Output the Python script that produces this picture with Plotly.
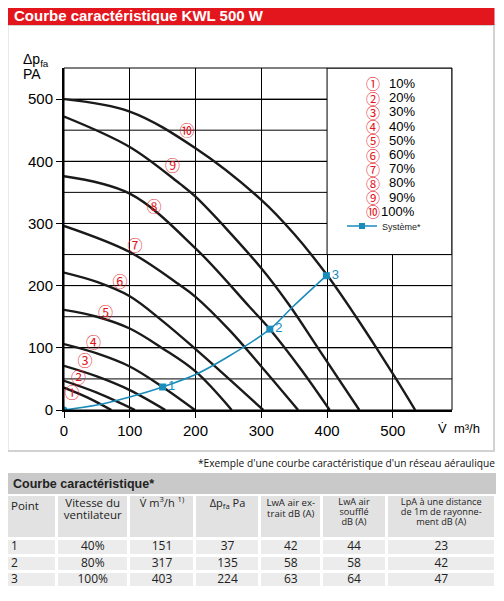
import plotly.graph_objects as go

# the page adds an 8px body margin, so the figure is drawn 8px smaller and
# every layout position below is given in reference pixels minus that offset
OFF = 8
W, H = 504 - OFF, 601 - OFF

# fan curves at each speed: air flow V (m3/h) and pressure dpfa (Pa)
c1_q = [0, 36, 72]
c1_p = [36, 20, 0]
c2_q = [0, 50, 108]
c2_p = [47, 28, 0]
c3_q = [0, 50, 100, 154]
c3_p = [71, 54, 32, 0]
c4_q = [0, 50, 100, 150, 199]
c4_p = [106, 91, 70, 37, 0]
c5_q = [0, 50, 100, 150, 200, 255]
c5_p = [161, 150, 131, 99, 62, 0]
c6_q = [0, 50, 100, 150, 200, 250, 303]
c6_p = [221, 206, 183, 143, 98, 51, 0]
c7_q = [0, 100, 176, 200, 252, 300, 356]
c7_p = [296, 254, 201, 182, 128, 70, 0]
c8_q = [0, 100, 200, 282, 313, 360, 404]
c8_p = [376, 348, 260, 166, 130, 66, 0]
c9_q = [0, 100, 176, 200, 300, 343, 386, 449]
c9_p = [472, 423, 364, 343, 228, 168, 100, 0]
c10_q = [0, 100, 200, 300, 350, 400, 444, 475, 505, 534]
c10_p = [500, 480, 421, 338, 283, 217, 150, 100, 50, 0]

curves_q = [c1_q, c2_q, c3_q, c4_q, c5_q, c6_q, c7_q, c8_q, c9_q, c10_q]
curves_p = [c1_p, c2_p, c3_p, c4_p, c5_p, c6_p, c7_p, c8_p, c9_p, c10_p]

circled = ["①", "②", "③", "④", "⑤", "⑥", "⑦", "⑧", "⑨", "⑩"]
speeds = ["10%", "20%", "30%", "40%", "50%", "60%", "70%", "80%", "90%", "100%"]
# where the circled numbers sit on the chart
label_q = [12, 22, 32, 45, 63, 85, 108, 137, 165, 187]
label_p = [25, 49, 76, 106, 154, 204, 262, 325, 390, 446]

# system curve and its operating points
sys_q = [0, 50, 100, 150, 200, 250, 313, 348, 399]
sys_p = [0, 8, 21, 37, 57, 86, 130, 166, 216]
pt_q = [0, 150, 313, 399]
pt_p = [0, 37, 130, 216]
pt_names = ["1", "2", "3"]

# pressure grid every 50 Pa
grid_p = [50, 100, 150, 200, 250, 300, 350, 400, 450, 500]

# table
tab_header = [
    ["Point"],
    ["Vitesse du", "ventilateur"],
    ["V̇ m<sup>3</sup>/h <sup>1)</sup>"],
    ["Δp<sub>fa</sub> Pa"],
    ["LwA air ex-", "trait dB (A)"],
    ["LwA air", "soufflé", "dB (A)"],
    ["LpA à une distance", "de 1m de rayonne-", "ment dB (A)"],
]
col_point = ["1", "2", "3"]
col_speed = ["40%", "80%", "100%"]
col_flow = [151, 317, 403]
col_dp = [37, 135, 224]
col_lwa_ext = [42, 58, 63]
col_lwa_sup = [44, 58, 64]
col_lpa = [23, 42, 47]
tab_cols = [col_point, col_speed, col_flow, col_dp, col_lwa_ext, col_lwa_sup, col_lpa]

RED = "#e3161e"
BLUE = "#1a8cbc"
FONT = "Liberation Sans"
TFONT = "Open Sans"

# table geometry in pixels (column / row boundaries)
tab_x_edges = [0, 49.5, 122, 188, 253, 314.5, 379.5, 489]
tab_y_edges = [0, 43.5, 61, 76.5, 93]
hdr_spacing = [0, 12, 0, 0, 11, 10, 10]
hdr_size = [11.5, 11.5, 11, 11, 9.6, 9.2, 9.2]


def fx(px):
    return (px - OFF) / W


def fy(py):
    return 1 - (py - OFF) / H


fig = go.Figure()

for q, p in zip(curves_q, curves_p):
    fig.add_trace(go.Scatter(
        x=q, y=p, mode="lines",
        line=dict(color="#1a1a1a", width=2.4, shape="spline", smoothing=1),
        showlegend=False, hoverinfo="skip",
    ))

fig.add_trace(go.Scatter(
    x=label_q, y=label_p, mode="text", text=circled,
    textfont=dict(family="Noto Sans CJK JP", size=15, color=RED),
    showlegend=False, hoverinfo="skip",
))

fig.add_trace(go.Scatter(
    x=sys_q, y=sys_p, mode="lines",
    line=dict(color=BLUE, width=1.6, shape="spline"),
    showlegend=False, hoverinfo="skip",
))
fig.add_trace(go.Scatter(
    x=pt_q[:1], y=pt_p[:1], mode="markers",
    marker=dict(symbol="circle", size=7, color=BLUE),
    showlegend=False, hoverinfo="skip",
))
fig.add_trace(go.Scatter(
    x=pt_q[1:], y=pt_p[1:], mode="markers+text", text=pt_names,
    textposition="middle right",
    marker=dict(symbol="square", size=7, color=BLUE),
    textfont=dict(family=FONT, size=13, color=BLUE),
    showlegend=False, hoverinfo="skip",
))
# legend entry only
fig.add_trace(go.Scatter(
    x=[None], y=[None], mode="lines+markers", name="Système*",
    line=dict(color=BLUE, width=1.4),
    marker=dict(symbol="square", size=6, color=BLUE),
))

# table: cell backgrounds as a heatmap with white gaps
fig.add_trace(go.Heatmap(
    x=tab_x_edges, y=tab_y_edges,
    z=[[0] * 7, [1] * 7, [1] * 7, [1] * 7],
    colorscale=[[0, "#e2e2e2"], [1, "#ececec"]], zmin=0, zmax=1,
    xgap=3, ygap=3, showscale=False, hoverinfo="skip",
    xaxis="x2", yaxis="y2",
))
mids_x = [(a + b) / 2 for a, b in zip(tab_x_edges[:-1], tab_x_edges[1:])]
mids_y = [(a + b) / 2 for a, b in zip(tab_y_edges[1:-1], tab_y_edges[2:])]
for i, lines in enumerate(tab_header):
    n = len(lines)
    top = 12 if i == 0 else 9
    if n == 3:
        top = 7.5
    ys = [top + k * hdr_spacing[i] for k in range(n)]
    xs = [tab_x_edges[i] + 4] * n if i == 0 else [mids_x[i]] * n
    fig.add_trace(go.Scatter(
        x=xs, y=ys, text=lines, mode="text",
        textposition="middle right" if i == 0 else "middle center",
        textfont=dict(family=TFONT, size=hdr_size[i], color="#222"),
        xaxis="x2", yaxis="y2", showlegend=False, hoverinfo="skip",
    ))
for i, col in enumerate(tab_cols):
    xs = [tab_x_edges[i] + 4] * len(col) if i == 0 else [mids_x[i]] * len(col)
    fig.add_trace(go.Scatter(
        x=xs, y=mids_y, text=[str(v) for v in col], mode="text",
        textposition="middle right" if i == 0 else "middle center",
        textfont=dict(family=TFONT, size=12, color="#222"),
        xaxis="x2", yaxis="y2", showlegend=False, hoverinfo="skip",
    ))

shapes = [
    # red title bar and grey frame around the chart
    dict(type="rect", xref="paper", yref="paper", x0=fx(7.5), x1=fx(494), y0=fy(451), y1=fy(25),
         line=dict(color="#d2d2d2", width=2), fillcolor="rgba(0,0,0,0)", layer="below"),
    dict(type="rect", xref="paper", yref="paper", x0=fx(7), x1=fx(494.5), y0=fy(25), y1=fy(7),
         line=dict(width=0), fillcolor=RED, layer="below"),
    # table title band
    dict(type="rect", xref="paper", yref="paper", x0=fx(7), x1=fx(496), y0=fy(494), y1=fy(473),
         line=dict(width=0), fillcolor="#c9c9c9", layer="below"),
]
# horizontal grid lines, placed on the pressure axis
for g in grid_p:
    shapes.append(dict(type="line", xref="x", yref="y", x0=0, x1=590, y0=g, y1=g,
                       line=dict(color="black", width=1), layer="below"))
shapes += [
    # legend box covering the grid
    dict(type="rect", xref="x", yref="y", x0=400, x1=590, y0=250, y1=550,
         line=dict(color="black", width=1), fillcolor="white", layer="above"),
    # plot frame
    dict(type="rect", xref="x domain", yref="y domain", x0=0, x1=1, y0=0, y1=1,
         line=dict(color="black", width=1), layer="above"),
]

annotations = [
    dict(text="<b>Courbe caractéristique KWL 500 W</b>", x=fx(12), y=fy(16), xref="paper", yref="paper",
         xanchor="left", yanchor="middle", showarrow=False, font=dict(family=FONT, size=15, color="white")),
    dict(text="Δp<sub>fa</sub>", x=fx(21), y=fy(60), xref="paper", yref="paper",
         xanchor="left", yanchor="middle", showarrow=False, font=dict(family=FONT, size=14, color="black")),
    dict(text="PA", x=fx(21), y=fy(74), xref="paper", yref="paper",
         xanchor="left", yanchor="middle", showarrow=False, font=dict(family=FONT, size=14, color="black")),
    dict(text="V̇  m³/h", x=fx(436), y=fy(428), xref="paper", yref="paper",
         xanchor="left", yanchor="middle", showarrow=False, font=dict(family=FONT, size=13, color="black")),
    dict(text="*Exemple d'une courbe caractéristique d'un réseau aéraulique", x=fx(497), y=fy(463),
         xref="paper", yref="paper", xanchor="right", yanchor="middle", showarrow=False,
         font=dict(family=TFONT, size=10.2, color="#111")),
    dict(text="<b>Courbe caractéristique*</b>", x=fx(11), y=fy(484), xref="paper", yref="paper",
         xanchor="left", yanchor="middle", showarrow=False,
         font=dict(family="Liberation Sans Narrow, Liberation Sans", size=12.5, color="#222")),
]
for i, (c, s) in enumerate(zip(circled, speeds)):
    yy = fy(83.5 + i * 14.2)
    annotations.append(dict(text=c, x=fx(373), y=yy, xref="paper", yref="paper", xanchor="center",
                            yanchor="middle", showarrow=False,
                            font=dict(family="Noto Sans CJK JP", size=14, color=RED)))
    annotations.append(dict(text=s, x=fx(417), y=yy, xref="paper", yref="paper", xanchor="right",
                            yanchor="middle", showarrow=False,
                            font=dict(family=FONT, size=13, color="black")))

fig.update_layout(
    width=W, height=H,
    margin=dict(l=0, r=0, t=0, b=0, autoexpand=False),
    paper_bgcolor="white", plot_bgcolor="white",
    shapes=shapes, annotations=annotations,
    showlegend=True,
    legend=dict(x=fx(342), y=fy(226), xanchor="left", yanchor="middle",
                bgcolor="rgba(0,0,0,0)", font=dict(family=FONT, size=9, color="#222"),
                itemwidth=30),
    xaxis=dict(
        domain=[fx(64), fx(452)], range=[0, 590], tickmode="linear", tick0=0, dtick=100,
        showgrid=True, gridcolor="black", gridwidth=1, zeroline=False, automargin=False,
        showline=True, linecolor="black", linewidth=2,
        ticks="outside", ticklen=6, tickcolor="black", tickwidth=1,
        tickfont=dict(family=FONT, size=15, color="black"),
    ),
    yaxis=dict(
        domain=[fy(410), fy(68)], range=[0, 550], tickmode="linear", tick0=0, dtick=100,
        showgrid=True, gridcolor="black", gridwidth=1, zeroline=False, automargin=False,
        showline=True, linecolor="black", linewidth=2,
        ticks="outside", ticklen=6, tickcolor="black", tickwidth=1,
        tickfont=dict(family=FONT, size=15, color="black"),
    ),
    # table occupies reference pixels 8..496 (column edges are measured from pixel 7)
    xaxis2=dict(domain=[fx(8), fx(496)], range=[1, 489], visible=False, fixedrange=True,
                automargin=False, anchor="y2", showgrid=False),
    yaxis2=dict(domain=[fy(588), fy(495)], range=[93, 0], visible=False, fixedrange=True,
                automargin=False, anchor="x2", showgrid=False),
)

fig.write_html("out.html")
